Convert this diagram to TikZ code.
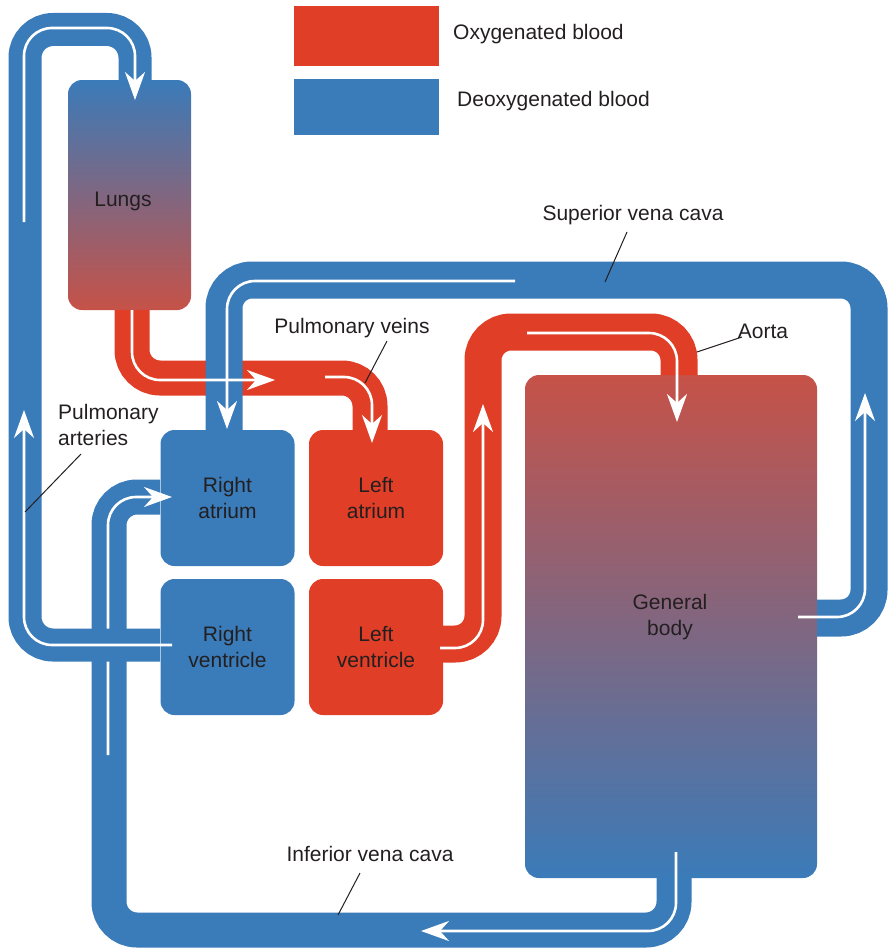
\documentclass[tikz,border=0pt]{standalone}
\usepackage{fontspec}
\setmainfont{Liberation Sans}
\usetikzlibrary{arrows.meta}
\definecolor{oxy}{RGB}{224,62,38}
\definecolor{deoxy}{RGB}{58,123,185}
\definecolor{mixred}{RGB}{198,82,72}
\definecolor{txt}{RGB}{35,31,32}
\begin{document}
\begin{tikzpicture}[x=1pt,y=-1pt,
  lbl/.style={font=\fontsize{21}{26}\selectfont, text=txt, align=center, inner sep=0pt},
  box/.style={lbl, rounded corners=14pt, minimum width=134pt, minimum height=136pt},
  tube/.style={line width=35pt, line cap=butt, rounded corners=28pt},
  flow/.style={draw=white, line width=2.6pt, rounded corners=28pt},
  tip/.style={-{Stealth[length=28pt,width=20pt,inset=9pt]}},
  lead/.style={draw=txt, line width=1pt}]
\useasboundingbox (0,0) rectangle (889,950);

% legend
\node[fill=oxy, minimum width=145pt, minimum height=60pt, inner sep=0pt] (legoxy) at (366.5,36) {};
\node[fill=deoxy, minimum width=145pt, minimum height=56pt, inner sep=0pt] (legdeoxy) at (366.5,107) {};
\node[lbl, anchor=west] (legoxyt) at (453,34) {Oxygenated blood};
\node[lbl, anchor=west] (legdeoxyt) at (457,101) {Deoxygenated blood};

% boxes
\node[box, top color=deoxy, bottom color=mixred, minimum width=123pt, minimum height=230pt] (lungs) at (129.5,195) {};
\node[lbl] (lungst) at (123,201) {Lungs};
\node[box, top color=mixred, bottom color=deoxy, minimum width=292pt, minimum height=503pt] (body) at (671,626.5) {};
\node[lbl] (bodyt) at (670,617) {General\\body};
\node[box, fill=deoxy] (ra) at (227.5,498) {Right\\atrium};
\node[box, fill=deoxy] (rv) at (227.5,647) {Right\\ventricle};
\node[box, fill=oxy] (la) at (376,498) {Left\\atrium};
\node[box, fill=oxy] (lv) at (376,647) {Left\\ventricle};

% inferior vena cava
\draw[tube, deoxy] (674,878) -- (674,930) -- (109,930) -- (109,497) -- (160,497);
\draw[flow, tip] (676,852) -- (676,931) -- (421,931);
\draw[flow, tip] (108,755) -- (108,497) -- (172,497);

% pulmonary arteries
\draw[tube, deoxy, line width=33pt] (160,645) -- (25,645) -- (25,29.5) -- (135,29.5) -- (135,80);
\draw[flow, tip] (172,645) -- (24,645) -- (24,410);
\draw[flow, tip] (24,222) -- (24,28) -- (135,28) -- (135,100);

% pulmonary veins
\draw[tube, oxy] (132,310) -- (132,378) -- (370,378) -- (370,430);
% superior vena cava
\draw[tube, deoxy, line width=37pt] (817,618) -- (869,618) -- (869,280) -- (224,280) -- (224,430);
\draw[flow, tip] (132,310) -- (132,380) -- (275,380);
\draw[flow, tip] (325,377) -- (372,377) -- (372,443);
\draw[flow, tip] (515,281) -- (227,281) -- (227,429);
\draw[flow, tip] (798,617) -- (865,617) -- (865,393);

% aorta
\draw[tube, oxy, line width=37pt] (443,644) -- (483,644) -- (483,332) -- (679,332) -- (679,375);
\draw[flow, tip] (440,648) -- (483,648) -- (483,404);
\draw[flow, tip] (527,333) -- (677,333) -- (677,422);

% labels
\node[lbl] (svcl) at (633,215) {Superior vena cava};
\coordinate (svcp) at (605,282);
\draw[lead] (627,232) -- (svcp);
\node[lbl] (aortal) at (763,331) {Aorta};
\coordinate (aortap) at (697,352);
\draw[lead] (742,337) -- (aortap);
\node[lbl] (pvl) at (352,328) {Pulmonary veins};
\coordinate (pvp) at (365,383);
\draw[lead] (387,341) -- (pvp);
\node[lbl, anchor=west, align=left] (pal) at (58,425) {Pulmonary\\arteries};
\coordinate (pap) at (25,512);
\draw[lead] (81,454) -- (pap);
\node[lbl] (ivcl) at (370,854) {Inferior vena cava};
\coordinate (ivcp) at (338,915);
\draw[lead] (360,873) -- (ivcp);
\end{tikzpicture}
\end{document}
